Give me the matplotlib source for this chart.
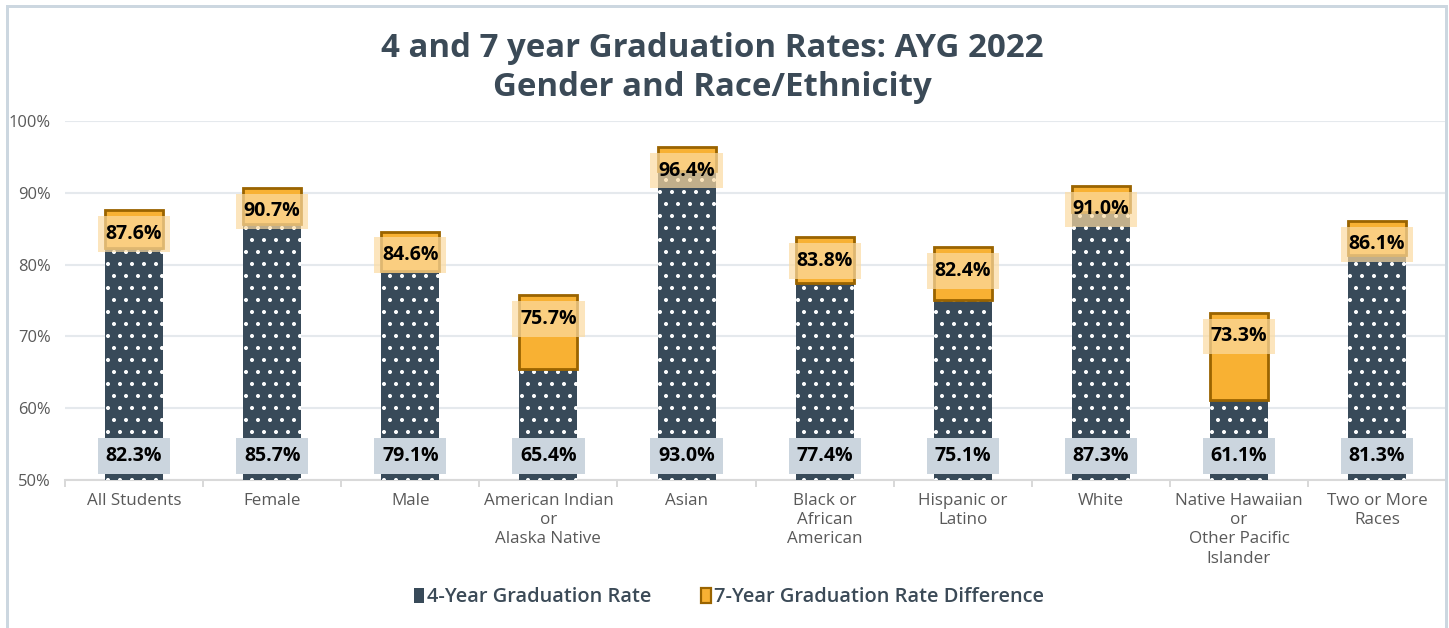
import numpy as np
import matplotlib.pyplot as plt
from matplotlib.patches import Rectangle

# data
categories = ["All Students", "Female", "Male", "American Indian\nor\nAlaska Native",
              "Asian", "Black or\nAfrican\nAmerican", "Hispanic or\nLatino", "White",
              "Native Hawaiian\nor\nOther Pacific\nIslander", "Two or More\nRaces"]
four_year = [82.3, 85.7, 79.1, 65.4, 93.0, 77.4, 75.1, 87.3, 61.1, 81.3]
seven_year = [87.6, 90.7, 84.6, 75.7, 96.4, 83.8, 82.4, 91.0, 73.3, 86.1]
y_ticks = [50, 60, 70, 80, 90, 100]

DARK = "#384a59"
ORANGE = "#f8b133"
ORANGE_EDGE = "#9a6400"
TEXT = "#3b4a57"

# drawn at 72 dpi so the dot hatch tile is 72 px (sparser dots); sizes below are in px
plt.rcParams['font.family'] = ['Open Sans', 'DejaVu Sans']
plt.rcParams['hatch.color'] = 'white'
plt.rcParams['hatch.linewidth'] = 1.6

fig = plt.figure(figsize=(1449 / 72, 628 / 72), dpi=72)
ax = fig.add_axes([0.0449, 0.2357, 0.9531, 0.5716])

x = np.arange(len(categories))
base = y_ticks[0]
four = np.array(four_year)
seven = np.array(seven_year)
width = 0.42

ax.bar(x, four - base, bottom=base, width=width, color=DARK, hatch='.',
       linewidth=0, zorder=3)
ax.bar(x, seven - four, bottom=four, width=width, color=ORANGE,
       edgecolor=ORANGE_EDGE, linewidth=2.8, zorder=3)

for xi, f, s in zip(x, four_year, seven_year):
    ax.text(xi, s - 3.3, f"{s:.1f}%", ha='center', va='center', fontsize=19.5,
            fontweight='bold', color='black', zorder=5,
            bbox=dict(boxstyle='square,pad=0.4', fc='#fcdba1', ec='none', alpha=0.7))
    ax.text(xi, base + 3.3, f"{f:.1f}%", ha='center', va='center', fontsize=19.5,
            fontweight='bold', color='black', zorder=5,
            bbox=dict(boxstyle='square,pad=0.4', fc='#cbd5de', ec='none'))

ax.set_ylim(base, y_ticks[-1])
ax.set_xlim(-0.5, len(categories) - 0.5)
ax.set_yticks(y_ticks)
ax.set_yticklabels([f"{t}%" for t in y_ticks], fontsize=16.5, color='#595959')
ax.set_xticks(x)
ax.set_xticklabels(categories, fontsize=17, color='#595959', linespacing=1.27)
ax.set_xticks(np.arange(len(categories) + 1) - 0.5, minor=True)
ax.tick_params(axis='x', which='major', length=0, pad=13)
ax.tick_params(axis='x', which='minor', length=7, color='#d9d9d9', width=2)
ax.tick_params(axis='y', length=0, pad=14)
ax.grid(axis='y', color='#e5e9ed', linewidth=2.1, zorder=0)
for side in ['top', 'right', 'left']:
    ax.spines[side].set_visible(False)
ax.spines['bottom'].set_color('#d9d9d9')
ax.spines['bottom'].set_linewidth(2.1)

fig.text(0.4914, 0.922, "4 and 7 year Graduation Rates: AYG 2022", ha='center', va='center',
         fontsize=33, fontweight='bold', color=TEXT)
fig.text(0.4914, 0.861, "Gender and Race/Ethnicity", ha='center', va='center',
         fontsize=33, fontweight='bold', color=TEXT)

h1 = Rectangle((0, 0), 1, 1, fc=DARK, ec='none')
h2 = Rectangle((0, 0), 1, 1, fc=ORANGE, ec=ORANGE_EDGE, lw=2.2)
leg = fig.legend([h1, h2], ["4-Year Graduation Rate", "7-Year Graduation Rate Difference"],
                 loc='center', bbox_to_anchor=(0.503, 0.049), ncol=2, frameon=False,
                 handlelength=0.5, handleheight=0.8, handletextpad=0.15, columnspacing=2.5,
                 prop={'size': 20, 'weight': 'semibold'})
for t in leg.get_texts():
    t.set_color(TEXT)

# outer border of the chart
fig.patches.append(Rectangle((0.0045, -0.05), 0.9936, 1.0405, transform=fig.transFigure,
                             fill=False, ec='#ccd7e0', lw=3))

fig.savefig("out.png", dpi=72)
